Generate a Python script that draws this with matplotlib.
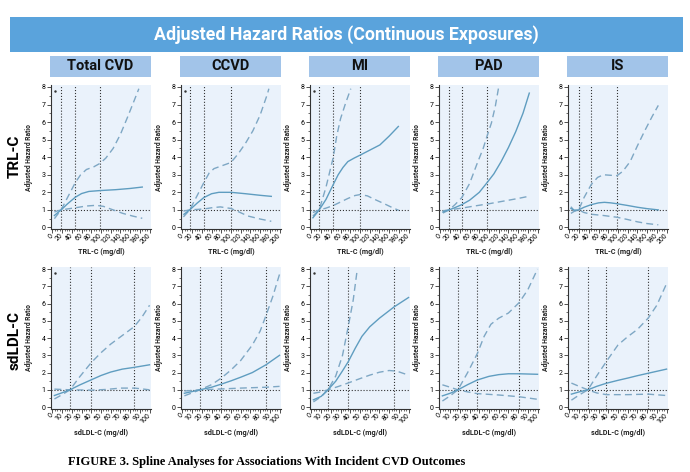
import numpy as np
import matplotlib
matplotlib.use('Agg')
import matplotlib.pyplot as plt
from matplotlib import font_manager
from matplotlib.patches import Rectangle
from matplotlib.ticker import MultipleLocator

W, H = 690, 472

# --- data ---
outcomes = ['Total CVD', 'CCVD', 'MI', 'PAD', 'IS']
exposures = ['TRL-C', 'sdLDL-C']
xlabels = ['TRL-C (mg/dl)', 'sdLDL-C (mg/dl)']

# vertical reference lines (percentiles) per panel
trl_vlines = [[18, 47, 98], [15, 44, 100], [16, 45, 99], [18, 44, 96], [19, 45, 98]]
ldl_vlines = [[18, 40, 84], [18, 40, 86], [17, 38, 85], [18, 38, 81], [19, 38, 81]]

# TRL-C curves: (x, HR) points for hazard ratio and the two CI bounds
trl_cvd_hr = [(4, 0.68), (10, 0.82), (18, 1.0), (30, 1.32), (47, 1.72), (60, 1.93), (75, 2.05), (98, 2.1), (130, 2.15), (160, 2.22), (185, 2.3)]
trl_cvd_up = [(4, 0.5), (10, 0.72), (18, 1.0), (30, 1.65), (47, 2.55), (58, 3.0), (70, 3.3), (85, 3.45), (98, 3.65), (110, 3.95), (125, 4.5), (140, 5.3), (155, 6.3), (168, 7.2), (178, 7.9)]
trl_cvd_lo = [(4, 0.88), (10, 0.94), (18, 1.0), (30, 1.05), (47, 1.12), (70, 1.22), (90, 1.26), (105, 1.2), (125, 1.0), (145, 0.8), (165, 0.65), (185, 0.52)]

trl_ccvd_hr = [(3, 0.75), (15, 1.0), (30, 1.38), (44, 1.7), (60, 1.92), (75, 2.0), (100, 2.0), (130, 1.92), (160, 1.83), (183, 1.77)]
trl_ccvd_up = [(2, 0.6), (15, 1.0), (30, 1.8), (44, 2.55), (55, 3.1), (65, 3.35), (80, 3.5), (100, 3.7), (115, 4.2), (130, 4.8), (145, 5.5), (160, 6.4), (175, 7.6), (178, 7.9)]
trl_ccvd_lo = [(2, 0.93), (15, 1.0), (44, 1.05), (60, 1.12), (78, 1.17), (100, 1.08), (115, 0.9), (135, 0.65), (160, 0.48), (183, 0.35)]

trl_mi_hr = [(3, 0.55), (16, 1.0), (30, 1.6), (45, 2.45), (55, 3.0), (65, 3.42), (75, 3.75), (88, 3.95), (99, 4.1), (120, 4.4), (141, 4.7), (160, 5.2), (179, 5.75)]
trl_mi_up = [(3, 0.65), (16, 1.0), (30, 2.3), (45, 4.0), (52, 5.2), (60, 6.2), (70, 7.05), (81, 7.9)]
trl_mi_lo = [(3, 0.85), (16, 1.0), (30, 1.1), (45, 1.25), (60, 1.45), (75, 1.65), (90, 1.82), (100, 1.87), (115, 1.8), (130, 1.6), (150, 1.35), (165, 1.15), (180, 0.97)]

trl_pad_hr = [(5, 0.88), (18, 1.0), (30, 1.13), (44, 1.3), (60, 1.55), (80, 2.0), (96, 2.55), (110, 3.05), (125, 3.75), (140, 4.55), (155, 5.45), (170, 6.5), (183, 7.65)]
trl_pad_up = [(5, 0.82), (18, 1.0), (30, 1.3), (44, 1.7), (60, 2.5), (75, 3.6), (88, 4.5), (96, 5.2), (105, 5.95), (113, 6.9), (120, 8.0)]
trl_pad_lo = [(5, 0.95), (18, 1.0), (44, 1.1), (70, 1.22), (100, 1.35), (130, 1.5), (160, 1.65), (183, 1.78)]

trl_is_hr = [(3, 1.08), (10, 0.98), (19, 1.0), (30, 1.15), (45, 1.3), (60, 1.4), (72, 1.43), (85, 1.4), (98, 1.35), (120, 1.25), (140, 1.15), (160, 1.07), (183, 1.0)]
trl_is_up = [(3, 1.18), (10, 0.95), (19, 1.0), (30, 1.7), (45, 2.45), (58, 2.85), (70, 3.0), (85, 2.97), (98, 2.95), (110, 3.2), (125, 3.75), (140, 4.65), (155, 5.5), (170, 6.3), (183, 6.95)]
trl_is_lo = [(3, 0.8), (10, 0.92), (19, 1.0), (30, 0.85), (45, 0.75), (70, 0.68), (98, 0.58), (120, 0.45), (140, 0.32), (160, 0.22), (183, 0.15)]

# sdLDL-C curves
ldl_cvd_hr = [(2, 0.67), (10, 0.83), (18, 1.0), (28, 1.28), (40, 1.58), (50, 1.83), (60, 2.03), (72, 2.2), (84, 2.3), (100, 2.45)]
ldl_cvd_up = [(2, 0.47), (10, 0.72), (18, 1.0), (28, 1.75), (40, 2.58), (50, 3.15), (60, 3.65), (72, 4.15), (84, 4.65), (92, 5.2), (100, 5.9)]
ldl_cvd_lo = [(2, 1.04), (18, 1.0), (40, 0.98), (55, 1.02), (70, 1.1), (85, 1.1), (100, 1.0)]

ldl_ccvd_hr = [(2, 0.8), (18, 1.0), (30, 1.15), (40, 1.33), (50, 1.52), (60, 1.73), (72, 2.0), (86, 2.45), (100, 3.0)]
ldl_ccvd_up = [(2, 0.65), (18, 1.0), (30, 1.3), (40, 1.68), (50, 2.15), (60, 2.7), (72, 3.6), (80, 4.4), (86, 5.3), (93, 6.4), (100, 7.7)]
ldl_ccvd_lo = [(2, 0.93), (18, 1.0), (40, 1.05), (60, 1.1), (86, 1.15), (100, 1.2)]

ldl_mi_hr = [(2, 0.42), (10, 0.62), (17, 1.0), (25, 1.5), (32, 2.1), (38, 2.64), (45, 3.4), (52, 4.1), (60, 4.65), (70, 5.15), (85, 5.8), (100, 6.35)]
ldl_mi_up = [(2, 0.3), (10, 0.6), (17, 1.0), (25, 1.8), (32, 3.0), (38, 4.7), (43, 6.2), (47, 7.9)]
ldl_mi_lo = [(2, 0.8), (10, 0.88), (17, 1.0), (28, 1.2), (38, 1.4), (50, 1.65), (60, 1.85), (70, 2.02), (80, 2.12), (88, 2.08), (100, 1.85)]

ldl_pad_hr = [(2, 0.65), (10, 0.8), (18, 1.0), (28, 1.3), (38, 1.57), (50, 1.78), (60, 1.88), (70, 1.93), (81, 1.93), (100, 1.9)]
ldl_pad_up = [(2, 0.35), (10, 0.65), (18, 1.0), (28, 2.0), (38, 3.1), (45, 4.1), (52, 4.8), (60, 5.15), (70, 5.45), (81, 6.05), (90, 6.8), (100, 8.0)]
ldl_pad_lo = [(2, 1.29), (10, 1.15), (18, 1.0), (28, 0.88), (38, 0.78), (60, 0.7), (81, 0.6), (100, 0.45)]

ldl_is_hr = [(2, 0.75), (10, 0.88), (19, 1.0), (28, 1.2), (38, 1.38), (50, 1.55), (60, 1.68), (70, 1.82), (81, 1.96), (100, 2.2)]
ldl_is_up = [(2, 0.4), (10, 0.7), (19, 1.0), (28, 1.8), (38, 2.64), (50, 3.6), (60, 4.08), (70, 4.5), (81, 5.15), (90, 5.9), (100, 7.15)]
ldl_is_lo = [(2, 1.39), (10, 1.2), (19, 1.0), (28, 0.82), (38, 0.72), (60, 0.72), (81, 0.75), (100, 0.67)]

trl_curves = [(trl_cvd_hr, trl_cvd_up, trl_cvd_lo), (trl_ccvd_hr, trl_ccvd_up, trl_ccvd_lo),
              (trl_mi_hr, trl_mi_up, trl_mi_lo), (trl_pad_hr, trl_pad_up, trl_pad_lo),
              (trl_is_hr, trl_is_up, trl_is_lo)]
ldl_curves = [(ldl_cvd_hr, ldl_cvd_up, ldl_cvd_lo), (ldl_ccvd_hr, ldl_ccvd_up, ldl_ccvd_lo),
              (ldl_mi_hr, ldl_mi_up, ldl_mi_lo), (ldl_pad_hr, ldl_pad_up, ldl_pad_lo),
              (ldl_is_hr, ldl_is_up, ldl_is_lo)]

# panels with the small marker in the top-left corner
trl_dot = [True, True, True, False, False]
ldl_dot = [True, False, True, False, False]

# --- styling ---
BANNER = '#5aa3dc'
HEADER = '#a2c4e9'
PANEL_BG = '#eaf2fb'
LINE = '#5f9dc0'
DASH = '#7ea7c4'
AXIS = '#333333'

names = {f.name for f in font_manager.fontManager.ttflist}
COND = 'Liberation Sans Narrow' if 'Liberation Sans Narrow' in names else 'Roboto'
plt.rcParams['font.family'] = [COND, 'DejaVu Sans']


def px_box(left, top, w, h):
  return [left / W, 1 - (top + h) / H, w / W, h / H]


def add_rect(fig, left, top, w, h, color):
  fig.add_artist(Rectangle((left / W, 1 - (top + h) / H), w / W, h / H,
                           transform=fig.transFigure, facecolor=color, edgecolor='none', zorder=0))


def draw_panel(ax, curves, vlines, xmax, major, minor, xlabel, dot, label_drop):
  hr, up, lo = curves
  ax.set_facecolor(PANEL_BG)
  for s in ['top', 'right']:
    ax.spines[s].set_visible(False)
  for s in ['left', 'bottom']:
    ax.spines[s].set_color(AXIS)
    ax.spines[s].set_linewidth(0.8)

  pad = xmax * 0.015
  ax.set_xlim(-pad, xmax + pad)
  ax.set_ylim(-0.1, 8.1)

  ax.axhline(1, color=AXIS, linestyle=':', linewidth=0.8, zorder=1)
  for v in vlines:
    ax.axvline(v, color=AXIS, linestyle=':', linewidth=0.8, zorder=1)

  for pts in (up, lo):
    xs, ys = zip(*pts)
    ax.plot(xs, ys, color=DASH, linewidth=1.0, dashes=(5, 3), zorder=2)
  xs, ys = zip(*hr)
  ax.plot(xs, ys, color=LINE, linewidth=1.0, zorder=3)

  if dot:
    ax.plot([xmax * 0.03], [7.75], marker='.', color=AXIS, markersize=1.5)

  ax.xaxis.set_major_locator(MultipleLocator(major))
  ax.xaxis.set_minor_locator(MultipleLocator(minor))
  ax.yaxis.set_major_locator(MultipleLocator(1))
  ax.yaxis.set_minor_locator(MultipleLocator(0.5))
  ax.tick_params(axis='both', which='major', length=3, width=0.6, color=AXIS, labelsize=5, pad=1)
  ax.tick_params(axis='both', which='minor', length=1.5, width=0.5, color=AXIS)
  ax.set_xticks(np.arange(0, xmax + 1, major))
  for lbl in ax.get_xticklabels():
    lbl.set_rotation(45)
    lbl.set_ha('right')
    lbl.set_va('center')
    lbl.set_rotation_mode('anchor')

  ax.set_ylabel('Adjusted Hazard Ratio', fontsize=4.8, fontweight='bold', color='#222222')
  ax.yaxis.set_label_coords(-0.18, 0.5)
  ax.set_xlabel(xlabel, fontsize=5.2, fontweight='bold', color='#222222')
  ax.xaxis.set_label_coords(0.5, label_drop)
  ax.xaxis.label.set_va('center')


fig = plt.figure(figsize=(W / 100, H / 100), dpi=100)
fig.patch.set_facecolor('white')

# banner and column headers
add_rect(fig, 10, 17, 673, 35, BANNER)
fig.text(346 / W, 1 - 34.5 / H, 'Adjusted Hazard Ratios (Continuous Exposures)', color='white',
         fontsize=12.8, fontweight='bold', ha='center', va='center')

lefts = [51, 181, 310, 439, 568]
for left, name in zip(lefts, outcomes):
  add_rect(fig, left - 1, 56, 101, 21, HEADER)
  fig.text((left + 49.5) / W, 1 - 66.5 / H, name, fontsize=10.5, fontweight='bold',
           ha='center', va='center', color='#111111')

# row labels
fig.text(15 / W, 1 - 156 / H, exposures[0], rotation=90, fontsize=11, fontweight='bold', ha='center', va='center')
fig.text(15 / W, 1 - 340 / H, exposures[1], rotation=90, fontsize=11, fontweight='bold', ha='center', va='center')

for i, left in enumerate(lefts):
  ax = fig.add_axes(px_box(left, 85.2, 100, 144))
  draw_panel(ax, trl_curves[i], trl_vlines[i], 200, 20, 5, xlabels[0], trl_dot[i], -23 / 144)
  ax = fig.add_axes(px_box(left, 267.3, 100, 141.5))
  draw_panel(ax, ldl_curves[i], ldl_vlines[i], 100, 10, 2.5, xlabels[1], ldl_dot[i], -24 / 141.5)

fig.text(68 / W, 1 - 462 / H, 'FIGURE 3. Spline Analyses for Associations With Incident CVD Outcomes',
         fontsize=9, fontweight='bold', family=['Liberation Serif', 'DejaVu Serif'], ha='left', va='center')

fig.savefig('out.png', dpi=100)
